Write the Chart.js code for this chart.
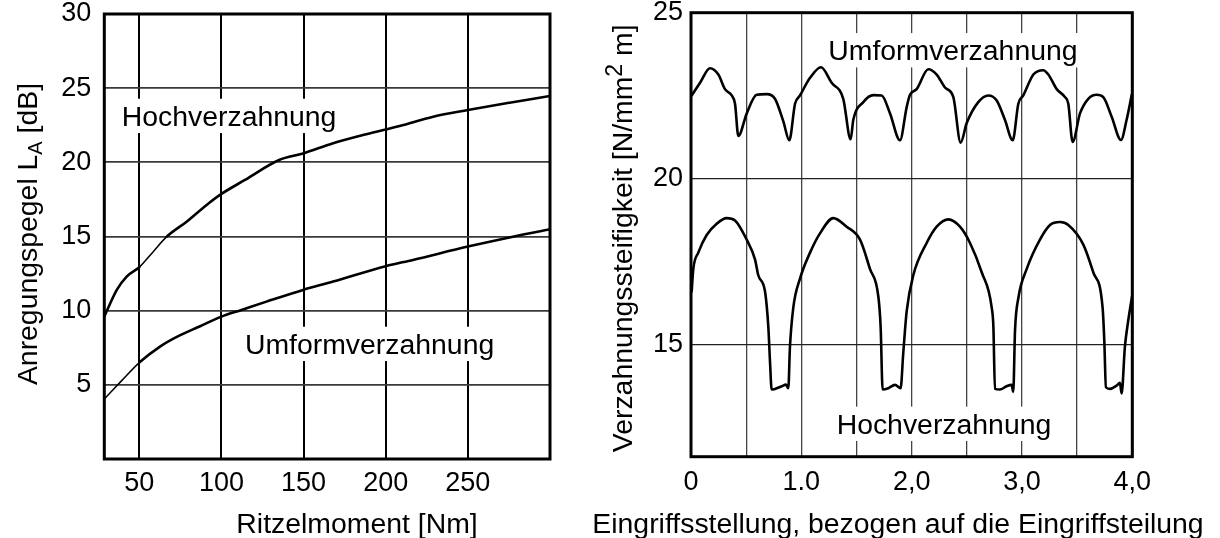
<!DOCTYPE html>
<html><head><meta charset="utf-8">
<script src="https://cdn.jsdelivr.net/npm/chart.js@4.4.1/dist/chart.umd.min.js"></script>
<style>
html,body{margin:0;padding:0;background:#fff;}
#wrap{position:relative;width:1220px;height:538px;overflow:hidden;}
#c1{position:absolute;left:0;top:0;}
#c2{position:absolute;left:560px;top:0;}
</style></head><body>
<div id="wrap"><canvas id="c1" width="560" height="538"></canvas><canvas id="c2" width="660" height="538"></canvas></div>
<script>
// ---------- Left chart data: Anregungspegel vs Ritzelmoment ----------
const torqueHoch  = [28.7, 36.3, 42.3, 50, 58.5, 66.7, 78.8, 91, 100, 114.3, 135.1, 149.7, 168, 188.2, 208.5, 228.9, 250, 275.4, 300];
const levelHoch   = [9.6, 11.4, 12.3, 12.93, 13.98, 14.99, 16.0, 17.13, 17.87, 18.81, 20.16, 20.6, 21.29, 21.9, 22.45, 23.08, 23.53, 24.02, 24.47];
const torqueUmform = [28.7, 39, 50, 62.6, 74, 87, 100, 112.2, 127.4, 149.7, 168, 200, 216.6, 250, 277.4, 300];
const levelUmform  = [4.05, 5.25, 6.5, 7.58, 8.3, 8.95, 9.6, 10.05, 10.61, 11.4, 11.96, 13.0, 13.42, 14.32, 14.99, 15.49];
const leftXTicks = [50, 100, 150, 200, 250];
const leftYTicks = [5, 10, 15, 20, 25, 30];

// ---------- Right chart data: Verzahnungssteifigkeit vs Eingriffsstellung ----------
const posUmform = [0.006,0.082,0.172,0.248,0.308,0.369,0.399,0.429,0.505,0.595,0.686,0.761,0.837,0.891,0.943,0.988,1.079,1.178,1.275,1.380,1.447,1.471,1.562,1.653,1.728,1.804,1.894,1.955,1.985,2.045,2.151,2.227,2.302,2.378,2.444,2.499,2.604,2.695,2.771,2.846,2.916,2.967,3.012,3.103,3.193,3.239,3.315,3.390,3.420,3.459,3.526,3.601,3.677,3.737,3.813,3.897,3.948,3.995];
const stiffUmform = [22.51,22.89,23.33,23.14,22.70,22.51,22.26,21.29,21.97,22.53,22.55,22.41,21.73,21.16,22.26,22.51,23.04,23.36,22.89,22.41,21.19,21.77,22.31,22.52,22.51,21.97,21.16,22.16,22.53,22.70,23.30,23.14,22.75,22.46,21.09,21.68,22.31,22.51,22.36,21.77,21.16,22.26,22.51,23.14,23.27,23.14,22.70,22.46,22.26,21.11,21.97,22.41,22.53,22.46,21.87,21.17,21.77,22.53];
const posHoch = [0.006,0.021,0.066,0.142,0.233,0.324,0.399,0.505,0.580,0.610,0.671,0.701,0.716,0.731,0.761,0.822,0.861,0.882,0.897,0.927,0.988,1.079,1.169,1.290,1.411,1.532,1.622,1.698,1.719,1.737,1.788,1.849,1.900,1.924,1.955,2.015,2.136,2.227,2.332,2.438,2.529,2.635,2.726,2.741,2.755,2.800,2.861,2.906,2.921,2.937,2.967,3.043,3.163,3.254,3.345,3.420,3.556,3.646,3.731,3.746,3.761,3.797,3.858,3.888,3.903,3.933,3.963,4.0];
const stiffHoch = [16.61,17.29,17.78,18.31,18.65,18.82,18.75,18.17,17.58,17.10,16.61,15.54,14.51,13.66,13.68,13.76,13.81,13.70,14.95,16.12,17.00,17.78,18.36,18.82,18.56,18.17,17.29,16.46,15.54,13.66,13.70,13.80,13.70,14.76,16.02,17.10,18.07,18.56,18.78,18.56,18.07,17.19,16.12,15.54,13.68,13.66,13.76,13.80,13.59,15.44,16.41,17.29,18.17,18.61,18.70,18.61,18.02,17.19,16.12,15.15,13.73,13.68,13.78,13.86,13.54,14.95,15.73,16.51];
const rightXTicks = [0, 0.5, 1, 1.5, 2, 2.5, 3, 3.5, 4];
const rightXLabels = ['0', '', '1.0', '', '2,0', '', '3,0', '', '4,0'];
const rightYTicks = [15, 20, 25];

const FONT = '"Liberation Sans", Arial, Helvetica, sans-serif';
const TXT = 28.4, TICK = 27;
Chart.defaults.font.family = FONT;
Chart.defaults.color = '#000';

const pts = (xs, ys) => xs.map((x, i) => ({x, y: ys[i]}));

function drawRich(ctx, parts, cx, cy, rotate, size) {
  ctx.save();
  ctx.translate(cx, cy);
  if (rotate) ctx.rotate(-Math.PI / 2);
  let total = 0;
  parts.forEach(p => { ctx.font = (p.size || size) + 'px ' + FONT; p.w = ctx.measureText(p.t).width; total += p.w; });
  let x = -total / 2;
  ctx.fillStyle = '#000'; ctx.textBaseline = 'alphabetic'; ctx.textAlign = 'left';
  parts.forEach(p => { ctx.font = (p.size || size) + 'px ' + FONT; ctx.fillText(p.t, x, p.dy || 0); x += p.w; });
  ctx.restore();
}

function decoPlugin(notes, titles) {
  return {
    id: 'deco',
    beforeDatasetsDraw(chart) {
      const ctx = chart.ctx, xs = chart.scales.x, ys = chart.scales.y;
      const cap = TXT * 0.716;
      ctx.save();
      ctx.font = TXT + 'px ' + FONT;
      notes.forEach(n => {
        const x = xs.getPixelForValue(n.x), base = ys.getPixelForValue(n.y) + cap / 2;
        const w = ctx.measureText(n.text).width;
        ctx.fillStyle = '#fff';
        ctx.fillRect(x - 5, base - cap - 7, w + 10, cap + 14);
        ctx.fillStyle = '#000'; ctx.textBaseline = 'alphabetic'; ctx.textAlign = 'left';
        ctx.fillText(n.text, x, base);
      });
      ctx.restore();
    },
    afterDraw(chart) {
      const ctx = chart.ctx, a = chart.chartArea;
      ctx.save();
      ctx.strokeStyle = '#000'; ctx.lineWidth = 3;
      ctx.strokeRect(a.left, a.top, a.right - a.left, a.bottom - a.top);
      ctx.restore();
      titles.forEach(t => drawRich(ctx, t.parts, t.x, t.y, t.rot, TXT));
    }
  };
}

function lineDs(data, thin) {
  return {
    data, borderColor: '#000', borderWidth: 2.6, pointRadius: 0, fill: false,
    borderJoinStyle: 'round', borderCapStyle: 'round',
    cubicInterpolationMode: 'monotone',
    segment: thin ? { borderWidth: ctx => thin(ctx.p0.parsed.x, ctx.p1.parsed.x) ? 1.5 : 2.6 } : undefined
  };
}

// ---------- Left chart ----------
new Chart(document.getElementById('c1'), {
  type: 'line',
  data: { datasets: [
    lineDs(pts(torqueHoch, levelHoch), (a, b) => a >= 50 && b <= 66.8),
    lineDs(pts(torqueUmform, levelUmform), (a, b) => b <= 50)
  ]},
  options: {
    responsive: false, animation: false, devicePixelRatio: 1,
    layout: { padding: { left: 0, top: 14, right: 10, bottom: 0 } },
    plugins: { legend: { display: false }, tooltip: { enabled: false } },
    scales: {
      x: {
        type: 'linear', min: 28.7, max: 300,
        afterBuildTicks: s => { s.ticks = leftXTicks.map(v => ({value: v})); },
        afterFit: s => { s.height = 79; s.paddingLeft = 0; s.paddingRight = 0; },
        grid: { color: '#000', lineWidth: 2, drawTicks: false },
        border: { display: false },
        ticks: { padding: 8, color: '#000', font: { size: TICK }, maxRotation: 0, autoSkip: false }
      },
      y: {
        type: 'linear', min: 0, max: 30,
        afterBuildTicks: s => { s.ticks = leftYTicks.map(v => ({value: v})); },
        afterFit: s => { s.width = 104.3; s.paddingTop = 0; s.paddingBottom = 0; },
        grid: { color: '#3a3a3a', lineWidth: 1.8, drawTicks: false },
        border: { display: false },
        ticks: { padding: 13, color: '#000', font: { size: TICK } }
      }
    }
  },
  plugins: [decoPlugin(
    [ { text: 'Hochverzahnung', x: 39.3, y: 23.13 },
      { text: 'Umformverzahnung', x: 114.3, y: 7.76 } ],
    [ { parts: [{t: 'Ritzelmoment [Nm]'}], x: 357, y: 532.7, rot: false },
      { parts: [{t: 'Anregungspegel L'}, {t: 'A', size: 20, dy: 5}, {t: ' [dB]'}], x: 36.5, y: 234, rot: true } ]
  )]
});

// ---------- Right chart ----------
new Chart(document.getElementById('c2'), {
  type: 'line',
  data: { datasets: [
    lineDs(pts(posUmform, stiffUmform)),
    lineDs(pts(posHoch, stiffHoch))
  ]},
  options: {
    responsive: false, animation: false, devicePixelRatio: 1,
    layout: { padding: { left: 0, top: 12.7, right: 87.7, bottom: 0 } },
    plugins: { legend: { display: false }, tooltip: { enabled: false } },
    scales: {
      x: {
        type: 'linear', min: 0, max: 4,
        afterBuildTicks: s => { s.ticks = rightXTicks.map(v => ({value: v})); },
        afterFit: s => { s.height = 81.3; s.paddingLeft = 0; s.paddingRight = 0; },
        grid: { color: '#444', lineWidth: 1.3, drawTicks: false },
        border: { display: false },
        ticks: { padding: 10, color: '#000', font: { size: TICK }, maxRotation: 0, autoSkip: false,
                 callback: (v, i) => rightXLabels[i] }
      },
      y: {
        type: 'linear', min: 11.64, max: 25,
        afterBuildTicks: s => { s.ticks = rightYTicks.map(v => ({value: v})); },
        afterFit: s => { s.width = 131; s.paddingTop = 0; s.paddingBottom = 0; },
        grid: { color: '#222', lineWidth: 1.2, drawTicks: false },
        border: { display: false },
        ticks: { padding: 8, color: '#000', font: { size: TICK } }
      }
    }
  },
  plugins: [decoPlugin(
    [ { text: 'Umformverzahnung', x: 1.244, y: 23.87 },
      { text: 'Hochverzahnung', x: 1.32, y: 12.63 } ],
    [ { parts: [{t: 'Eingriffsstellung, bezogen auf die Eingriffsteilung'}], x: 338, y: 532.7, rot: false },
      { parts: [{t: 'Verzahnungssteifigkeit [N/mm'}, {t: '2', size: 23, dy: -10}, {t: ' m]'}], x: 72, y: 238.3, rot: true } ]
  )]
});
</script>
</body></html>
